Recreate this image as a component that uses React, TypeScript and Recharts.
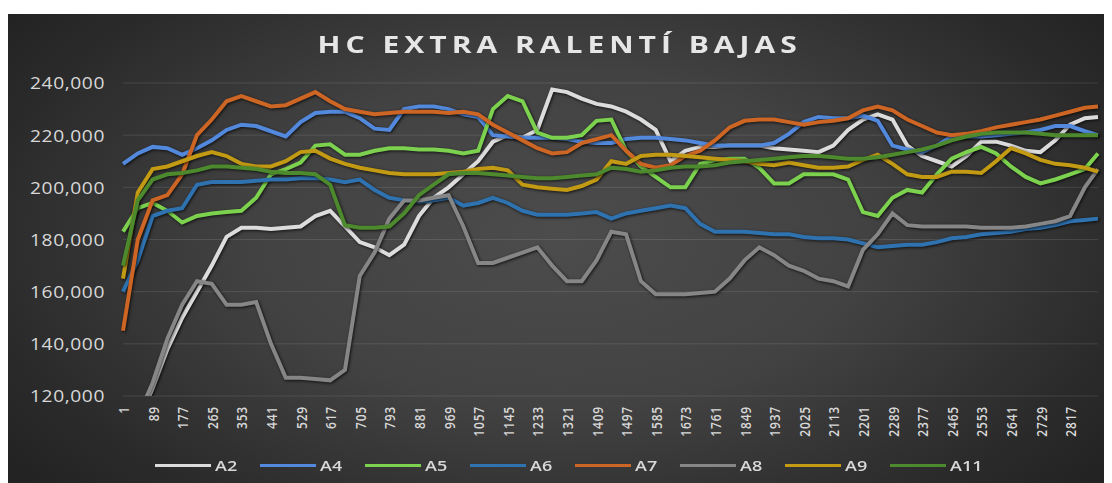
import { LineChart, Line, XAxis, YAxis, CartesianGrid } from 'recharts';

// sample index (x) every 44 readings, last point at the end of the run
const idx = [
  1, 45, 89, 133, 177, 221, 265, 309, 353, 397, 441, 485, 529, 573, 617, 661, 705, 749, 793, 837,
  881, 925, 969, 1013, 1057, 1101, 1145, 1189, 1233, 1277, 1321, 1365, 1409, 1453, 1497, 1541,
  1585, 1629, 1673, 1717, 1761, 1805, 1849, 1893, 1937, 1981, 2025, 2069, 2113, 2157, 2201, 2245,
  2289, 2333, 2377, 2421, 2465, 2509, 2553, 2597, 2641, 2685, 2729, 2773, 2817, 2861, 2900,
];

const xTicks = [
  1, 89, 177, 265, 353, 441, 529, 617, 705, 793, 881, 969, 1057, 1145, 1233, 1321, 1409, 1497,
  1585, 1673, 1761, 1849, 1937, 2025, 2113, 2201, 2289, 2377, 2465, 2553, 2641, 2729, 2817,
];

const yTicks = [120000, 140000, 160000, 180000, 200000, 220000, 240000];

const a2 = [
  95000, 110000, 123000, 138000, 150000, 160000, 170000, 181000, 184500, 184500, 184000, 184500,
  185000, 189000, 191000, 185000, 179000, 177000, 174000, 178000, 189000, 196000, 200000, 205000,
  210000, 217500, 220000, 219000, 222000, 237500, 236500, 234000, 232000, 231000, 229000, 226000,
  222000, 210000, 214000, 215500, 215500, 216000, 216000, 216000, 215000, 214500, 214000, 213500,
  216000, 222000, 226000, 228000, 226000, 216000, 212000, 210000, 208000, 212000, 217500, 217500,
  216000, 214000, 213500, 218000, 224000, 226500, 227000,
];

const a4 = [
  209000, 213000, 215500, 215000, 212500, 215000, 218000, 222000, 224000, 223500, 221500, 219500,
  225000, 228500, 229000, 229000, 226500, 222500, 222000, 230000, 231000, 231000, 230000, 228000,
  227000, 220000, 219500, 219000, 219000, 219000, 218500, 217500, 217000, 217000, 218500, 219000,
  219000, 218500, 218000, 217000, 216000, 216000, 216000, 216000, 217000, 220500, 225000, 227000,
  226500, 226500, 227500, 225500, 216000, 214500, 213500, 216000, 219500, 219500, 219500, 220000,
  220500, 221000, 222000, 223500, 223500, 221500, 220000,
];

const a5 = [
  183000, 192000, 194000, 191000, 186500, 189000, 190000, 190500, 191000, 196000, 205000, 207000,
  209500, 216000, 216500, 212500, 212500, 214000, 215000, 215000, 214500, 214500, 214000, 213000,
  214000, 230000, 235000, 233000, 221000, 219000, 219000, 220000, 225500, 226000, 214000, 208000,
  204000, 200000, 200000, 209000, 210500, 211000, 211000, 207500, 201500, 201500, 205000, 205000,
  205000, 203000, 190500, 189000, 196000, 199000, 198000, 205000, 211000, 213500, 215500, 213000,
  208000, 204000, 201500, 203000, 205000, 207000, 213000,
];

const a6 = [
  160000, 172000, 189000, 191000, 192000, 201000, 202000, 202000, 202000, 202500, 203000, 203000,
  203500, 203500, 203000, 202000, 203000, 199000, 196000, 195000, 194500, 195000, 196000, 193000,
  194000, 196000, 194000, 191000, 189500, 189500, 189500, 190000, 190500, 188000, 190000, 191000,
  192000, 193000, 192000, 186000, 183000, 183000, 183000, 182500, 182000, 182000, 181000, 180500,
  180500, 180000, 178500, 177000, 177500, 178000, 178000, 179000, 180500, 181000, 182000, 182500,
  183000, 184000, 184500, 185500, 187000, 187500, 188000,
];

const a7 = [
  145000, 180000, 195000, 197000, 205000, 220000, 226000, 233000, 235000, 233000, 231000, 231500,
  234000, 236500, 233000, 230000, 229000, 228000, 228500, 229000, 229000, 229000, 228500, 229000,
  228000, 224000, 221000, 218000, 215000, 213000, 213500, 217000, 218500, 220000, 214000, 209000,
  207500, 208500, 212000, 214000, 218000, 223000, 225500, 226000, 226000, 225000, 224000, 225000,
  225500, 226500, 229500, 231000, 229500, 226000, 223500, 221000, 220000, 220500, 221500, 223000,
  224000, 225000, 226000, 227500, 229000, 230500, 231000,
];

const a8 = [
  100000, 112000, 125000, 142000, 155000, 164000, 163000, 155000, 155000, 156000, 140000, 127000,
  127000, 126500, 126000, 130000, 166000, 175000, 188000, 195000, 195000, 196000, 197000, 185000,
  171000, 171000, 173000, 175000, 177000, 170000, 164000, 164000, 172000, 183000, 182000, 164000,
  159000, 159000, 159000, 159500, 160000, 165000, 172000, 177000, 174000, 170000, 168000, 165000,
  164000, 162000, 176000, 182000, 190000, 185500, 185000, 185000, 185000, 185000, 184500, 184500,
  184500, 185000, 186000, 187000, 189000, 200000, 207000,
];

const a9 = [
  165000, 198000, 207000, 208000, 210000, 212000, 213500, 212000, 209000, 208000, 208000, 210000,
  213500, 214000, 211000, 209000, 207500, 206500, 205500, 205000, 205000, 205000, 205500, 206000,
  207000, 207500, 206500, 201000, 200000, 199500, 199000, 200500, 203000, 210000, 209000, 212000,
  212500, 212500, 212000, 211500, 211000, 210500, 210000, 209000, 208500, 209500, 208500, 207500,
  207500, 208000, 210500, 212500, 209000, 205000, 204000, 204000, 206000, 206000, 205500, 210000,
  215000, 213000, 210500, 209000, 208500, 207500, 206000,
];

const a11 = [
  170000, 195000, 203000, 205000, 205500, 206500, 208000, 208000, 207500, 207000, 206000, 205500,
  205500, 205000, 201000, 185500, 184500, 184500, 185000, 190000, 197000, 201000, 205000, 205500,
  205500, 205000, 204500, 204000, 203500, 203500, 204000, 204500, 205000, 207500, 207000, 206000,
  206500, 207500, 208000, 208000, 208500, 209500, 210000, 210500, 211000, 211500, 212000, 212000,
  211500, 211000, 211000, 211500, 212500, 213500, 214500, 216000, 218000, 219500, 220500, 221000,
  221000, 221000, 220500, 220000, 220000, 220000, 220000,
];

const series = [
  { key: 'A2', values: a2, color: '#dcdcdc' },
  { key: 'A4', values: a4, color: '#5289dc' },
  { key: 'A5', values: a5, color: '#7cd24e' },
  { key: 'A6', values: a6, color: '#2f72b0' },
  { key: 'A7', values: a7, color: '#cd6624' },
  { key: 'A8', values: a8, color: '#868686' },
  { key: 'A9', values: a9, color: '#c29a14' },
  { key: 'A11', values: a11, color: '#4d8a2e' },
];

const data = idx.map((i, n) => {
  const row: Record<string, number> = { idx: i };
  series.forEach((s) => {
    row[s.key] = s.values[n];
  });
  return row;
});

const FONT = '"Open Sans", "Liberation Sans", sans-serif';
const TEXT = '#d8d8d8';

const YTick = ({ x, y, payload }: any) => (
  <text
    transform={`translate(${x},${y}) scale(1.2,1)`}
    textAnchor="end"
    dominantBaseline="central"
    fill={TEXT}
    fontSize={16}
    fontFamily={FONT}
    letterSpacing={0.5}
  >
    {payload.value.toLocaleString('en-US')}
  </text>
);

const XTick = ({ x, y, payload }: any) => (
  <text
    transform={`translate(${x},${y}) scale(1.25,1) rotate(-90)`}
    textAnchor="end"
    dominantBaseline="central"
    fill={TEXT}
    fontSize={12}
    fontWeight={600}
    fontFamily={FONT}
    letterSpacing={0.8}
  >
    {payload.value}
  </text>
);

export default function App() {
  return (
    <div
      style={{
        position: 'relative',
        marginTop: 6,
        width: 1104,
        height: 469,
        overflow: 'hidden',
        background:
          'radial-gradient(ellipse 62% 80% at 50% 48%, #4c4c4c 0%, #424242 45%, #2a2a2a 85%, #232323 100%)',
        fontFamily: FONT,
      }}
    >
      <style>{`.recharts-line-curve{filter:drop-shadow(1px 1.5px 1.5px rgba(0,0,0,0.75));}`}</style>
      <div
        style={{
          position: 'absolute',
          top: 14,
          left: 0,
          width: 1104,
          textAlign: 'center',
          lineHeight: '32px',
        }}
      >
        <span
          style={{
            display: 'inline-block',
            transform: 'scaleX(1.25)',
            color: '#e6e6e6',
            fontWeight: 700,
            fontSize: 24,
            letterSpacing: 4,
          }}
        >
          HC EXTRA RALENTÍ BAJAS
        </span>
      </div>
      <div style={{ position: 'absolute', left: 0, top: 0 }}>
        <LineChart width={1104} height={469} data={data} margin={{ top: 69, right: 14, left: 0, bottom: 0 }}>
          <CartesianGrid horizontal vertical={false} stroke="rgba(255,255,255,0.11)" />
          <XAxis
            dataKey="idx"
            type="number"
            domain={[1, 2900]}
            ticks={xTicks}
            interval={0}
            height={87}
            axisLine={false}
            tickLine={false}
            tickSize={0}
            tickMargin={10}
            tick={<XTick />}
          />
          <YAxis
            type="number"
            domain={[120000, 240000]}
            ticks={yTicks}
            allowDataOverflow
            width={115}
            axisLine={false}
            tickLine={false}
            tickSize={0}
            tickMargin={18}
            tick={<YTick />}
          />
          {series.map((s) => (
            <Line
              key={s.key}
              dataKey={s.key}
              type="linear"
              stroke={s.color}
              strokeWidth={4}
              dot={false}
              activeDot={false}
              isAnimationActive={false}
            />
          ))}
        </LineChart>
      </div>
      <div
        style={{
          position: 'absolute',
          left: 147,
          top: 441,
          height: 20,
          display: 'flex',
          alignItems: 'center',
        }}
      >
        {series.map((s) => (
          <div key={s.key} style={{ width: 105, display: 'flex', alignItems: 'center' }}>
            <span style={{ width: 56, height: 3, background: s.color, display: 'inline-block' }} />
            <span
              style={{
                marginLeft: 4,
                color: TEXT,
                fontSize: 15,
                fontWeight: 600,
                display: 'inline-block',
                transform: 'scaleX(1.2)',
                transformOrigin: 'left center',
              }}
            >
              {s.key}
            </span>
          </div>
        ))}
      </div>
    </div>
  );
}
